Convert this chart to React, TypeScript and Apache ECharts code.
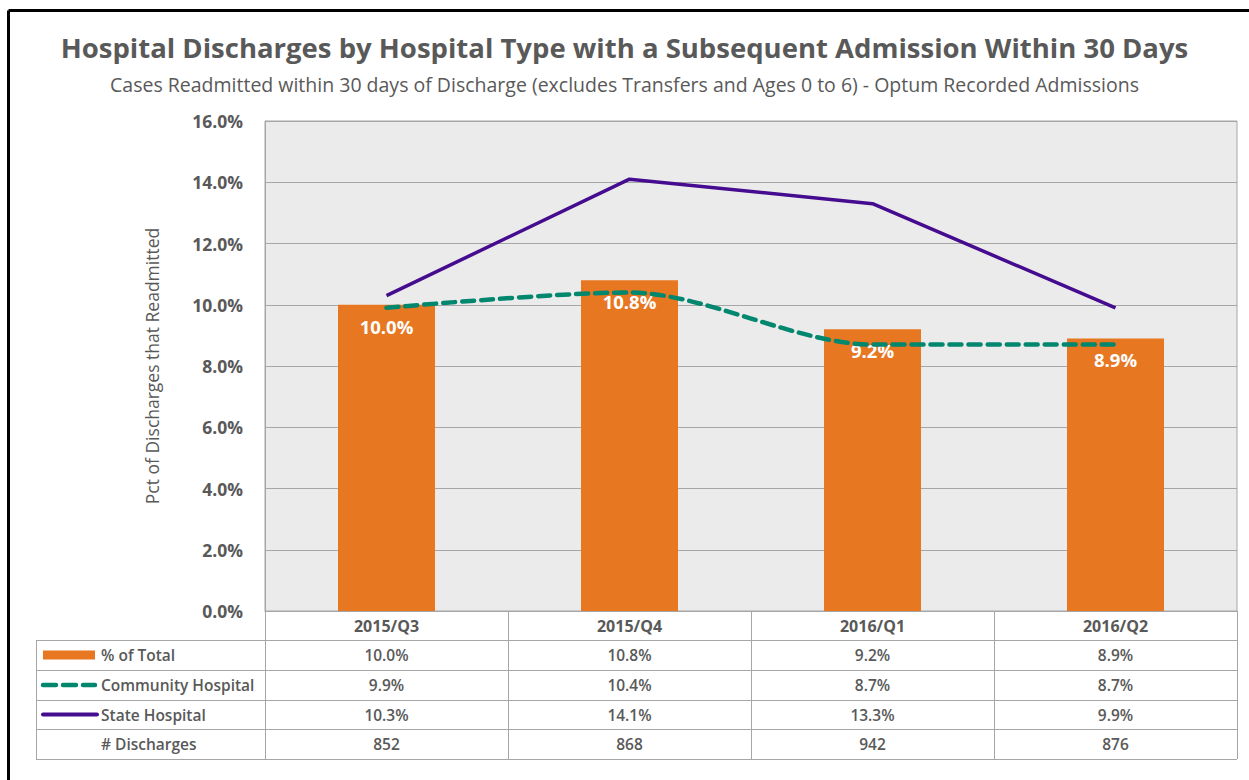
import React, { useEffect, useRef } from "react";
import * as echarts from "echarts";

const categories = ["2015/Q3", "2015/Q4", "2016/Q1", "2016/Q2"];
const pctTotal = [10.0, 10.8, 9.2, 8.9];
const community = [9.9, 10.4, 8.7, 8.7];
const stateHosp = [10.3, 14.1, 13.3, 9.9];
const discharges = [852, 868, 942, 876];
const seriesNames = ["% of Total", "Community Hospital", "State Hospital", "# Discharges"];

const TITLE = "Hospital Discharges by Hospital Type with a Subsequent Admission Within 30 Days";
const SUBTITLE = "Cases Readmitted within 30 days of Discharge (excludes Transfers and Ages 0 to 6) - Optum Recorded Admissions";

const FONT = "'Open Sans', Lato, sans-serif";
const TXT = "#595959";
const ORANGE = "#E87722";
const TEAL = "#00876E";
const PURPLE = "#450C8F";
const GRIDC = "#a6a6a6";

const W = 1249;
const H = 780;
const GL = 265;
const GR = 1237;
const GT = 121;
const GB = 611;
const ROWS = [611, 640, 670, 700, 729, 759];
const TL = 36;

const pct = (v: number) => v.toFixed(1) + "%";

export default function App() {
  const ref = useRef<HTMLDivElement>(null);
  useEffect(() => {
    if (!ref.current) return;
    const chart = echarts.init(ref.current, null, { renderer: "svg" });
    const colW = (GR - GL) / categories.length;
    const g: any[] = [];
    const line = (x1: number, y1: number, x2: number, y2: number, color = GRIDC, w = 1) =>
      g.push({ type: "line", silent: true, shape: { x1, y1, x2, y2 }, style: { stroke: color, lineWidth: w } });
    // frame
    line(8.5, 10.5, W, 10.5, "#000", 3);
    line(8.5, 10.5, 8.5, H, "#000", 3);
    // table horizontals
    for (let i = 1; i < ROWS.length; i++) line(TL, ROWS[i] + 0.5, GR, ROWS[i] + 0.5);
    // verticals
    line(TL + 0.5, ROWS[1], TL + 0.5, ROWS[ROWS.length - 1]);
    for (let c = 0; c <= categories.length; c++) {
      const x = Math.round(GL + c * colW) + 0.5;
      line(x, GB, x, ROWS[ROWS.length - 1]);
    }
    const rowVals: string[][] = [
      pctTotal.map(pct),
      community.map(pct),
      stateHosp.map(pct),
      discharges.map((d) => String(d)),
    ];
    const tableFont = `600 15.5px ${FONT}`;
    rowVals.forEach((vals, r) => {
      const cy = (ROWS[r + 1] + ROWS[r + 2]) / 2;
      vals.forEach((v, c) => {
        g.push({
          type: "text",
          silent: true,
          style: {
            text: v,
            x: GL + (c + 0.5) * colW,
            y: cy,
            align: "center",
            verticalAlign: "middle",
            font: tableFont,
            fill: TXT,
          },
        });
      });
    });
    // legend keys and row names
    const cyOf = (r: number) => (ROWS[r + 1] + ROWS[r + 2]) / 2;
    g.push({ type: "rect", silent: true, shape: { x: 43, y: cyOf(0) - 4.5, width: 52, height: 9 }, style: { fill: ORANGE } });
    g.push({ type: "line", silent: true, shape: { x1: 43, y1: cyOf(1), x2: 95, y2: cyOf(1) }, style: { stroke: TEAL, lineWidth: 4.5, lineDash: [13, 7], lineCap: "round" } });
    g.push({ type: "line", silent: true, shape: { x1: 43, y1: cyOf(2), x2: 97, y2: cyOf(2) }, style: { stroke: PURPLE, lineWidth: 4, lineCap: "round" } });
    for (let r = 0; r < 4; r++) {
      g.push({ type: "text", silent: true, style: { text: seriesNames[r], x: 101, y: cyOf(r), align: "left", verticalAlign: "middle", font: tableFont, fill: TXT } });
    }

    chart.setOption({
      animation: false,
      backgroundColor: "#fff",
      title: [
        { text: TITLE, left: "center", top: 28, textStyle: { fontFamily: FONT, fontSize: 27.5, fontWeight: "bold", color: TXT } },
        { text: SUBTITLE, left: "center", top: 69, textStyle: { fontFamily: FONT, fontSize: 19.5, fontWeight: "normal", color: TXT } },
      ],
      grid: {
        left: GL, right: W - GR, top: GT, bottom: H - GB,
        show: true, backgroundColor: "#ebebeb", borderColor: GRIDC, borderWidth: 1,
      },
      xAxis: {
        type: "category",
        data: categories,
        axisTick: { show: false },
        axisLine: { lineStyle: { color: GRIDC } },
        axisLabel: { fontFamily: FONT, fontSize: 16, fontWeight: "bold", color: TXT, margin: 7 },
      },
      yAxis: {
        type: "value",
        min: 0, max: 16, interval: 2,
        name: "Pct of Discharges that Readmitted",
        nameLocation: "middle",
        nameGap: 104,
        nameTextStyle: { fontFamily: FONT, fontSize: 17.5, color: TXT },
        axisLine: { show: true, lineStyle: { color: GRIDC } },
        axisLabel: { fontFamily: FONT, fontSize: 17.5, fontWeight: "bold", color: TXT, margin: 22, formatter: (v: number) => pct(v) },
        splitLine: { lineStyle: { color: GRIDC, width: 1 } },
      },
      series: [
        {
          name: seriesNames[0], type: "bar", data: pctTotal, barWidth: 97, z: 2,
          itemStyle: { color: ORANGE },
          label: { show: true, position: "insideTop", distance: 12, color: "#fff", fontFamily: FONT, fontSize: 18.5, fontWeight: "bold", formatter: (p: any) => pct(p.value) },
        },
        {
          name: seriesNames[1], type: "line", data: community, smooth: 0.3, symbol: "none", z: 3,
          lineStyle: { color: TEAL, width: 4.5, type: [12, 7], cap: "round" },
        },
        {
          name: seriesNames[2], type: "line", data: stateHosp, symbol: "none", z: 4,
          lineStyle: { color: PURPLE, width: 3.5 },
        },
      ],
      graphic: g,
    });
    return () => chart.dispose();
  }, []);
  return <div ref={ref} style={{ position: "fixed", left: 0, top: 0, width: W, height: H, background: "#fff" }} />;
}
